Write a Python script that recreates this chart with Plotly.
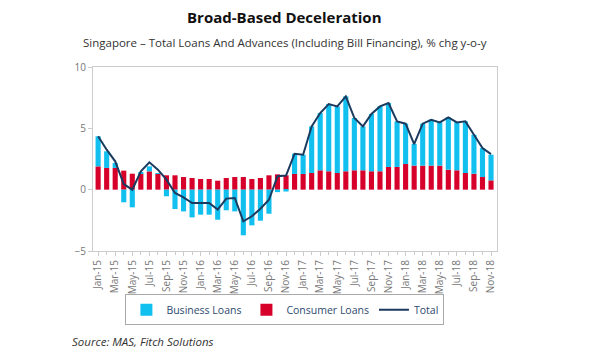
import plotly.graph_objects as go

months = ["Jan-15","Feb-15","Mar-15","Apr-15","May-15","Jun-15","Jul-15","Aug-15","Sep-15","Oct-15","Nov-15","Dec-15",
          "Jan-16","Feb-16","Mar-16","Apr-16","May-16","Jun-16","Jul-16","Aug-16","Sep-16","Oct-16","Nov-16","Dec-16",
          "Jan-17","Feb-17","Mar-17","Apr-17","May-17","Jun-17","Jul-17","Aug-17","Sep-17","Oct-17","Nov-17","Dec-17",
          "Jan-18","Feb-18","Mar-18","Apr-18","May-18","Jun-18","Jul-18","Aug-18","Sep-18","Oct-18","Nov-18"]

consumer = [1.9, 1.77, 1.77, 1.55, 1.3, 1.3, 1.49, 1.28, 1.17, 1.17, 1.03, 0.95,
            0.87, 0.87, 0.73, 0.95, 1.03, 1.03, 0.87, 0.95, 1.17, 1.25, 1.17, 1.28,
            1.28, 1.36, 1.58, 1.5, 1.36, 1.5, 1.58, 1.58, 1.5, 1.5, 1.85, 1.85,
            2.09, 1.96, 1.96, 1.96, 1.96, 1.63, 1.58, 1.36, 1.3, 1.03, 0.76]

business = [2.45, 1.36, 0.41, -1.03, -1.44, 0.1, 0.41, 0.05, -0.54, -1.58, -1.77, -2.26,
            -2.04, -2.04, -2.45, -1.68, -1.77, -3.72, -2.91, -2.53, -1.96, -0.2, -0.15, 1.65,
            1.57, 3.8, 4.67, 5.49, 5.43, 6.11, 4.26, 3.58, 4.67, 5.3, 5.22, 3.72,
            3.29, 1.77, 3.42, 3.75, 3.53, 4.27, 3.91, 4.21, 3.18, 2.36, 2.09]

total = [4.35, 3.26, 2.31, 0.46, 0.0, 1.49, 2.23, 1.63, 0.82, -0.27, -0.63, -1.09,
         -1.09, -1.09, -1.63, -0.73, -0.68, -2.58, -2.17, -1.55, -0.82, 1.09, 1.15, 2.93,
         2.85, 5.16, 6.25, 6.98, 6.79, 7.6, 5.84, 5.16, 6.17, 6.79, 7.06, 5.57,
         5.38, 3.72, 5.38, 5.7, 5.48, 5.89, 5.48, 5.57, 4.48, 3.39, 2.9]

tick_labels = months[::2]

x = list(range(len(months)))
tick_pos = x[::2]

FONT = "Open Sans"
fig = go.Figure()
fig.add_trace(go.Bar(x=x, y=consumer, name="Consumer Loans", marker_color="#D6002A",
                     marker_line_width=0, width=0.6, legendrank=2))
fig.add_trace(go.Bar(x=x, y=business, name="Business Loans", marker_color="#12C0F0",
                     marker_line_width=0, width=0.6, legendrank=1))
fig.add_trace(go.Scatter(x=x, y=total, name="Total", mode="lines",
                         line=dict(color="#1B3A5E", width=2), legendrank=3))

fig.update_layout(
    width=593, height=355,
    barmode="relative",
    plot_bgcolor="white", paper_bgcolor="white",
    margin=dict(l=85, r=104, t=59, b=112, autoexpand=False),
    font=dict(family=FONT, color="#555555"),
    showlegend=True,
    legend=dict(orientation="h", traceorder="normal",
                x=0.475, xanchor="center", y=-0.235, yanchor="top",
                bordercolor="#AAAAAA", borderwidth=1,
                font=dict(size=10.5, color="#2D4A6E", family=FONT),
                itemwidth=30, tracegroupgap=0),
    annotations=[
        dict(text="<b>Broad-Based Deceleration</b>", xref="paper", yref="paper",
             x=0.475, y=1.0, xanchor="center", yanchor="bottom", yshift=38,
             showarrow=False, font=dict(size=15, color="#111111", family=FONT)),
        dict(text="Singapore – Total Loans And Advances (Including Bill Financing), % chg y-o-y",
             xref="paper", yref="paper", x=0.475, y=1.0, xanchor="center", yanchor="bottom",
             yshift=15, showarrow=False, font=dict(size=11.5, color="#333333", family=FONT)),
        dict(text="<i>Source: MAS, Fitch Solutions</i>", xref="paper", yref="paper",
             x=-0.057, y=0, xanchor="left", yanchor="top", yshift=-81,
             showarrow=False, font=dict(size=11.5, color="#333333", family=FONT)),
    ],
)

fig.update_xaxes(
    range=[-0.6, 46.7], automargin=False,
    tickmode="array", tickvals=tick_pos, ticktext=tick_labels,
    tickangle=-90, tickfont=dict(size=10, color="#777777"),
    ticks="outside", ticklen=4, tickcolor="#CCCCCC",
    minor=dict(dtick=1, tick0=0, ticks="outside", ticklen=3, tickcolor="#CCCCCC"),
    showline=True, linecolor="#CCCCCC", linewidth=1, mirror=True,
    showgrid=False, zeroline=False,
)
fig.update_yaxes(
    range=[-5, 10], tickvals=[-5, 0, 5, 10], automargin=False,
    tickfont=dict(size=10, color="#777777"),
    ticks="outside", ticklen=4, tickcolor="#CCCCCC",
    showline=True, linecolor="#CCCCCC", linewidth=1, mirror=True,
    showgrid=False, zeroline=False,
)

fig.write_html("out.html")
